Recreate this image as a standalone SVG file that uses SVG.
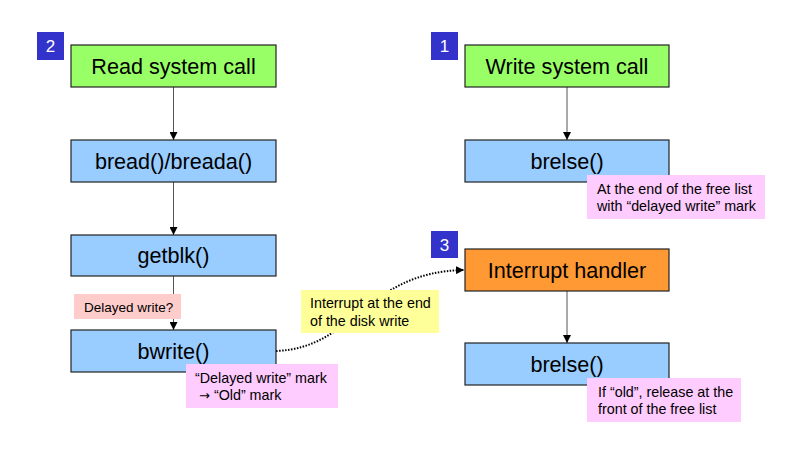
<svg xmlns="http://www.w3.org/2000/svg" width="798" height="453" viewBox="0 0 798 453">
<style>
.node{stroke:#222;stroke-width:1.2}
.green{fill:#99FF66}
.blue{fill:#99CCFF}
.orange{fill:#FF9933}
.t{font-family:"Liberation Sans",Arial,sans-serif;font-size:21.6px;fill:#000;text-anchor:middle}
.n{font-family:"Liberation Sans",Arial,sans-serif;font-size:14.3px;fill:#000}
.badge{fill:#3333CC}
.bt{font-family:"Liberation Sans",Arial,sans-serif;font-size:17px;fill:#fff;text-anchor:middle}
.conn{stroke:#555;stroke-width:1;fill:none}
.dot{stroke:#000;stroke-width:2;stroke-dasharray:1.5 1.5;fill:none}
</style>
<defs>
<marker id="ah" viewBox="0 0 10 10" refX="10" refY="5" markerWidth="8" markerHeight="8" markerUnits="userSpaceOnUse" orient="auto">
<path d="M0,0 L10,5 L0,10 z" fill="#000"/>
</marker>
</defs>
<rect width="798" height="453" fill="#fff"/>
<g id="connectors">
<line class="conn" x1="173.5" y1="87" x2="173.5" y2="140" marker-end="url(#ah)"/>
<line class="conn" x1="173.5" y1="182" x2="173.5" y2="235" marker-end="url(#ah)"/>
<line class="conn" x1="173.5" y1="276" x2="173.5" y2="330" marker-end="url(#ah)"/>
<line class="conn" x1="567" y1="87" x2="567" y2="140" marker-end="url(#ah)"/>
<line class="conn" x1="567" y1="291" x2="567" y2="343" marker-end="url(#ah)"/>
<path class="dot" d="M276,351 C355,348 365,272 464,270" marker-end="url(#ah)"/>
</g>
<g id="badge2"><rect class="badge" x="37" y="32" width="27" height="28"/><text class="bt" x="50.5" y="52">2</text></g>
<g id="badge1"><rect class="badge" x="431" y="32" width="27" height="28"/><text class="bt" x="444.5" y="52">1</text></g>
<g id="badge3"><rect class="badge" x="431" y="231" width="27" height="27"/><text class="bt" x="444.5" y="251">3</text></g>
<g id="read"><rect class="node green" x="71" y="45" width="205" height="42"/><text class="t" x="173.5" y="73.5">Read system call</text></g>
<g id="bread"><rect class="node blue" x="71" y="140" width="205" height="42"/><text class="t" x="173.5" y="168.5">bread()/breada()</text></g>
<g id="getblk"><rect class="node blue" x="71" y="235" width="205" height="41"/><text class="t" x="173.5" y="263">getblk()</text></g>
<g id="delayed-q"><rect x="74" y="294" width="107" height="25" fill="#FFCCCC"/><text class="n" style="font-size:13.5px" x="84" y="312">Delayed write?</text></g>
<g id="bwrite"><rect class="node blue" x="71" y="330" width="205" height="42"/><text class="t" x="173.5" y="358.5">bwrite()</text></g>
<g id="note-mark"><rect x="186" y="364" width="152" height="44" fill="#FFCCFF"/><text class="n" x="195" y="383">“Delayed write” mark</text><text class="n" x="199" y="400"><tspan style="font-family:'DejaVu Sans',sans-serif;font-size:13px">→</tspan> “Old” mark</text></g>
<g id="note-interrupt"><rect x="301" y="290" width="138" height="43" fill="#FFFF99"/><text class="n" x="310" y="308">Interrupt at the end</text><text class="n" x="310" y="326">of the disk write</text></g>
<g id="write"><rect class="node green" x="465" y="45" width="204" height="42"/><text class="t" x="567" y="73.5">Write system call</text></g>
<g id="brelse1"><rect class="node blue" x="465" y="140" width="204" height="42"/><text class="t" x="567" y="168.5">brelse()</text></g>
<g id="note-end"><rect x="587" y="175" width="178" height="44" fill="#FFCCFF"/><text class="n" x="597" y="194">At the end of the free list</text><text class="n" x="597" y="211">with “delayed write” mark</text></g>
<g id="interrupt"><rect class="node orange" x="465" y="249" width="204" height="42"/><text class="t" x="567" y="277.5">Interrupt handler</text></g>
<g id="brelse2"><rect class="node blue" x="465" y="343" width="204" height="42"/><text class="t" x="567" y="371.5">brelse()</text></g>
<g id="note-old"><rect x="587" y="378" width="154" height="44" fill="#FFCCFF"/><text class="n" x="598" y="397">If “old”, release at the</text><text class="n" x="598" y="414">front of the free list</text></g>
</svg>
